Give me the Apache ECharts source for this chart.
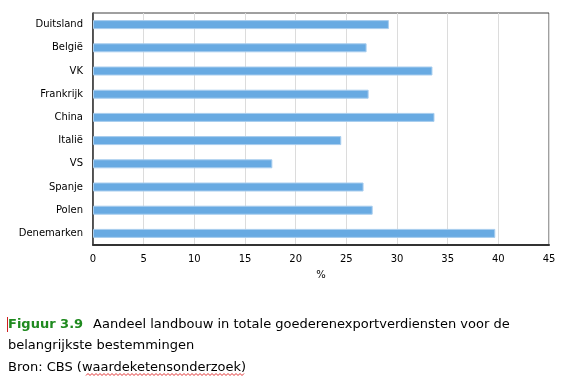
<!DOCTYPE html>
<html><head><meta charset="utf-8">
<script src="https://cdn.jsdelivr.net/npm/echarts@6/dist/echarts.min.js"></script>
<style>html,body{margin:0;padding:0;background:#fff}#c{width:567px;height:376px}</style>
</head><body><div id="c"></div>
<script>
var categories = ['Duitsland','België','VK','Frankrijk','China','Italië','VS','Spanje','Polen','Denemarken'];
var values = [29.2, 27.0, 33.5, 27.2, 33.7, 24.5, 17.7, 26.7, 27.6, 39.7];
var xTicks = [0,5,10,15,20,25,30,35,40,45];
var axisName = '%';
var captionLabel = 'Figuur 3.9';
var captionLine1 = 'Aandeel landbouw in totale goederenexportverdiensten voor de';
var captionLine2 = 'belangrijkste bestemmingen';
var captionLine3 = 'Bron: CBS (waardeketensonderzoek)';

var chart = echarts.init(document.getElementById('c'), null, {renderer:'canvas'});
var font = 'DejaVu Sans';
// wavy underline points (spell-check squiggle)
var wave = [];
for (var x = 86; x <= 244; x += 2) { wave.push([x, 374 + ((x/2)%2 ? 1.5 : -0.5)]); }
chart.setOption({
  backgroundColor: '#fff',
  animation: false,
  grid: {left: 93, top: 13, width: 456, height: 232, show: true, borderColor: '#404040', borderWidth: 1},
  xAxis: {
    type: 'value', min: xTicks[0], max: xTicks[xTicks.length-1], interval: 5,
    name: axisName, nameLocation: 'middle', nameGap: 25,
    nameTextStyle: {fontFamily: font, fontSize: 10, color: '#000'},
    axisLine: {show: true, lineStyle: {color: '#333', width: 2}},
    axisTick: {show: false},
    axisLabel: {fontFamily: font, fontSize: 10, color: '#000', margin: 9},
    splitLine: {show: true, lineStyle: {color: '#dcdcdc', width: 1}}
  },
  yAxis: {
    type: 'category', data: categories, inverse: true,
    axisLine: {show: true, onZero: false, lineStyle: {color: '#333', width: 1.5}},
    axisTick: {show: false},
    axisLabel: {fontFamily: font, fontSize: 10, color: '#000', margin: 10},
    splitLine: {show: false}
  },
  series: [{
    type: 'bar', data: values, barWidth: 9,
    itemStyle: {color: '#68aae2', borderColor: '#a8cdee', borderWidth: 1}
  }],
  graphic: [
    {type: 'rect', shape: {x: 7, y: 317, width: 1, height: 15}, style: {fill: '#d02020'}},
    {type: 'text', left: 8, top: 318, style: {
      text: '{g|' + captionLabel + '}   {n|' + captionLine1 + '}',
      rich: {
        g: {fontFamily: font, fontSize: 13, fontWeight: 'bold', fill: '#1f8a1f'},
        n: {fontFamily: font, fontSize: 13, fill: '#000'}
      }}},
    {type: 'text', left: 8, top: 339, style: {text: captionLine2, fontFamily: font, fontSize: 13, fill: '#000'}},
    {type: 'text', left: 8, top: 361, style: {text: captionLine3, fontFamily: font, fontSize: 13, fill: '#000'}},
    {type: 'polyline', shape: {points: wave}, style: {stroke: '#e03030', lineWidth: 1, fill: null}}
  ]
});
</script></body></html>
